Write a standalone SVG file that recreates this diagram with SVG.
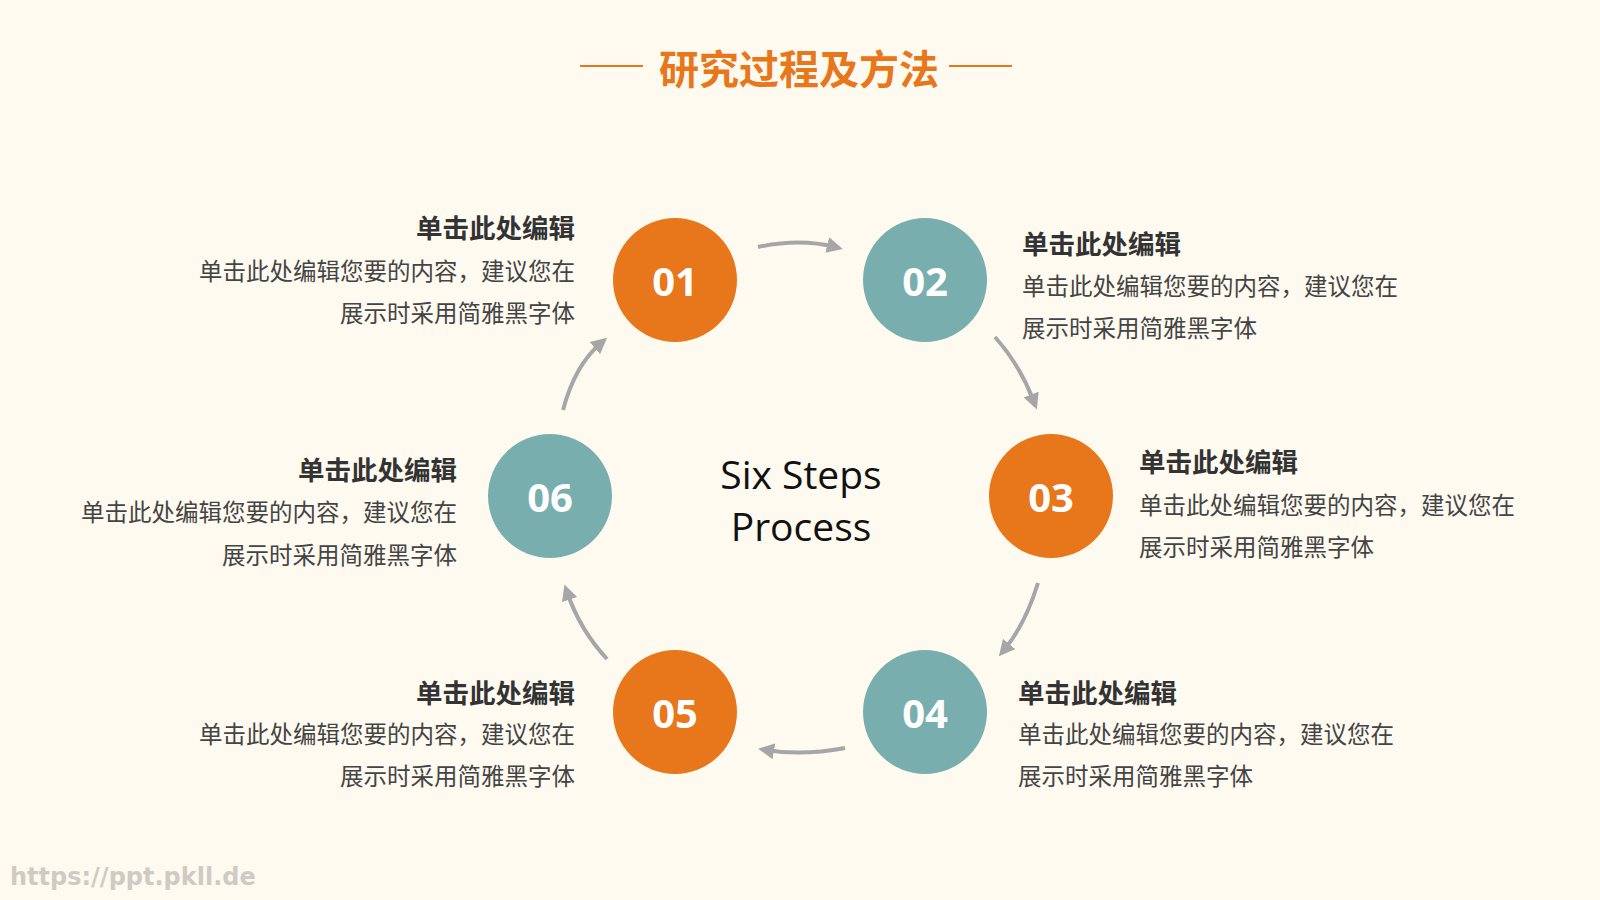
<svg xmlns="http://www.w3.org/2000/svg" width="1600" height="900" viewBox="0 0 1600 900">
<style>
text{font-family:"Noto Sans CJK SC","Noto Sans",sans-serif}
.o{fill:#E8761A}.t{fill:#78AFAE}
.num{font-family:"Open Sans","Noto Sans",sans-serif;font-weight:700;font-size:40px;fill:#fff;text-anchor:middle;dominant-baseline:central}
.h{font-size:26.5px;font-weight:700;fill:#333}
.b{font-size:23.5px;fill:#444}
.c{font-family:"Open Sans","Noto Sans",sans-serif;font-size:39px;fill:#111;text-anchor:middle;dominant-baseline:central}
.arr{fill:none;stroke:#A6A6A6;stroke-width:4;marker-end:url(#ah)}
</style>
<defs><marker id="ah" viewBox="0 0 10 10" refX="5" refY="5" markerWidth="4" markerHeight="4" orient="auto" markerUnits="strokeWidth"><path d="M0,0L10,5L0,10z" fill="#A6A6A6"/></marker></defs>
<rect width="1600" height="900" fill="#FEFAF0"/>
<g id="title">
<line x1="580" y1="66" x2="643" y2="66" stroke="#E8761A" stroke-width="2"/>
<line x1="949" y1="66" x2="1012" y2="66" stroke="#E8761A" stroke-width="2"/>
<text x="799" y="67" font-size="40" font-weight="700" fill="#E8761A" text-anchor="middle" dominant-baseline="central">研究过程及方法</text>
</g>
<g id="center"><text class="c" x="801" y="473">Six Steps</text>
<text class="c" x="801" y="525">Process</text></g>
<g id="connectors">
<path class="arr" d="M758,247 Q800,238 835,247"/>
<path class="arr" d="M995,337 Q1020,365 1034,402"/>
<path class="arr" d="M1038,583 Q1025,625 1004,650"/>
<path class="arr" d="M845,748 Q802,756 766,750"/>
<path class="arr" d="M607,659 Q580,630 567,592"/>
<path class="arr" d="M563,410 Q575,365 601,343"/>
</g>
<g id="n1"><circle class="o" cx="675" cy="280" r="62"/><text class="num" x="675" y="280">01</text>
<text class="h" x="575" y="226" text-anchor="end" dominant-baseline="central">单击此处编辑</text>
<text class="b" x="575" y="270" text-anchor="end" dominant-baseline="central">单击此处编辑您要的内容，建议您在</text>
<text class="b" x="575" y="312" text-anchor="end" dominant-baseline="central">展示时采用简雅黑字体</text></g>
<g id="n2"><circle class="t" cx="925" cy="280" r="62"/><text class="num" x="925" y="280">02</text>
<text class="h" x="1022" y="242" dominant-baseline="central">单击此处编辑</text>
<text class="b" x="1022" y="285" dominant-baseline="central">单击此处编辑您要的内容，建议您在</text>
<text class="b" x="1022" y="327" dominant-baseline="central">展示时采用简雅黑字体</text></g>
<g id="n3"><circle class="o" cx="1051" cy="496" r="62"/><text class="num" x="1051" y="496">03</text>
<text class="h" x="1139" y="460" dominant-baseline="central">单击此处编辑</text>
<text class="b" x="1139" y="504" dominant-baseline="central">单击此处编辑您要的内容，建议您在</text>
<text class="b" x="1139" y="546" dominant-baseline="central">展示时采用简雅黑字体</text></g>
<g id="n4"><circle class="t" cx="925" cy="712" r="62"/><text class="num" x="925" y="712">04</text>
<text class="h" x="1018" y="691" dominant-baseline="central">单击此处编辑</text>
<text class="b" x="1018" y="733" dominant-baseline="central">单击此处编辑您要的内容，建议您在</text>
<text class="b" x="1018" y="775" dominant-baseline="central">展示时采用简雅黑字体</text></g>
<g id="n5"><circle class="o" cx="675" cy="712" r="62"/><text class="num" x="675" y="712">05</text>
<text class="h" x="575" y="691" text-anchor="end" dominant-baseline="central">单击此处编辑</text>
<text class="b" x="575" y="733" text-anchor="end" dominant-baseline="central">单击此处编辑您要的内容，建议您在</text>
<text class="b" x="575" y="775" text-anchor="end" dominant-baseline="central">展示时采用简雅黑字体</text></g>
<g id="n6"><circle class="t" cx="550" cy="496" r="62"/><text class="num" x="550" y="496">06</text>
<text class="h" x="457" y="468" text-anchor="end" dominant-baseline="central">单击此处编辑</text>
<text class="b" x="457" y="511" text-anchor="end" dominant-baseline="central">单击此处编辑您要的内容，建议您在</text>
<text class="b" x="457" y="554" text-anchor="end" dominant-baseline="central">展示时采用简雅黑字体</text></g>
<text x="10" y="877" font-size="24" font-weight="700" fill="#CFCBC3" dominant-baseline="central" style="font-family:'DejaVu Sans',sans-serif">https://ppt.pkll.de</text>
</svg>
